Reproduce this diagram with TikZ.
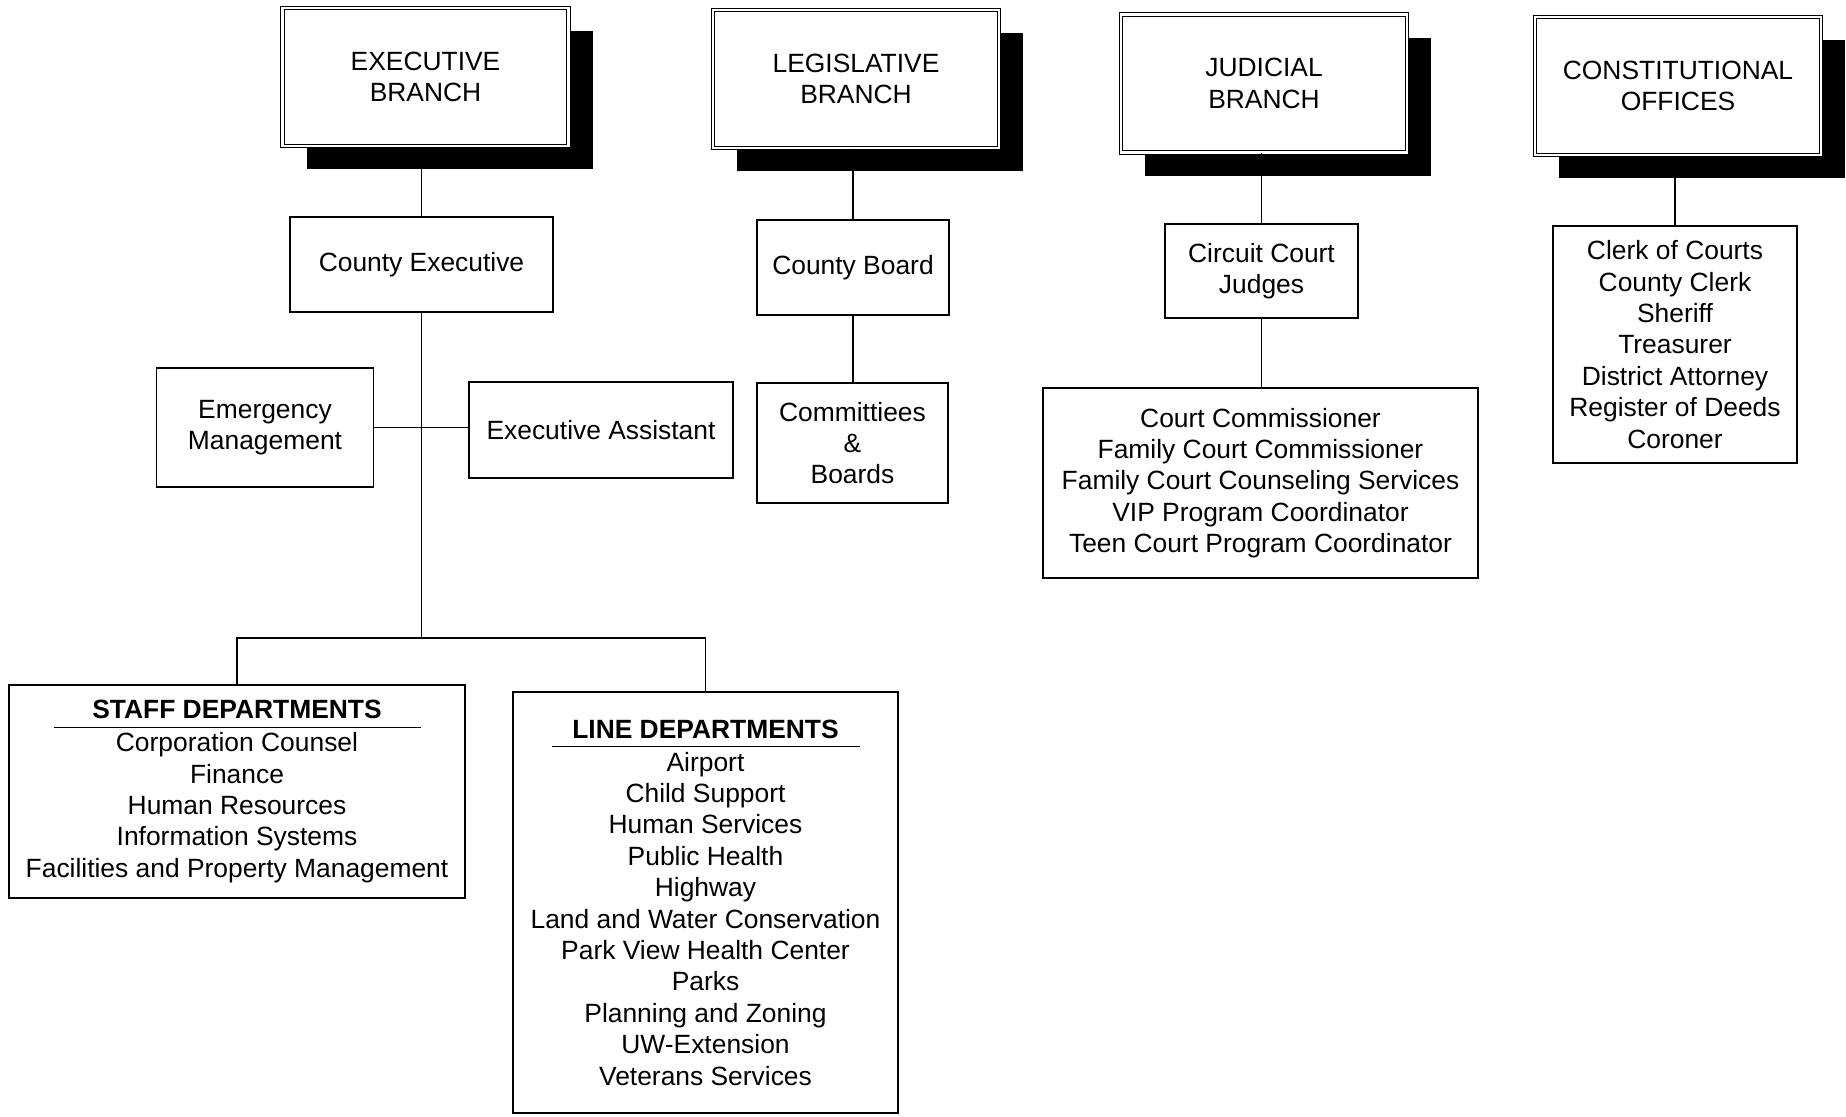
\documentclass[tikz,border=0pt]{standalone}
\usepackage{fontspec}
\setmainfont{Liberation Sans}
\usetikzlibrary{shadows}

\newcommand\orgtextstyle{\fontsize{13.2}{15.7}\selectfont}
\newcommand\depthead[2]{\makebox[#1]{\bfseries #2}\llap{\rule[-4.6pt]{#1}{0.7pt}}}

\tikzset{
  orgunit/.style={draw, line width=0.8pt, align=center, font=\orgtextstyle, inner sep=0pt},
  orgbranch/.style={orgunit, fill=white, line width=0.6pt, double, double distance=1.2pt,
    minimum width=143pt, minimum height=69pt,
    drop shadow={shadow xshift=12pt, shadow yshift=-11.5pt, fill=black, opacity=1}},
  orglink/.style={line width=0.6pt}
}

\begin{document}
\begin{tikzpicture}[x=0.5pt, y=-0.5pt]
    \useasboundingbox (0,0) rectangle (1846,1116);
    \node[orgbranch] (exec) at (425.5,77) {EXECUTIVE\\BRANCH};
    \node[orgbranch] (legis) at (856,79) {LEGISLATIVE\\BRANCH};
    \node[orgbranch] (jud) at (1264,83.5) {JUDICIAL\\BRANCH};
    \node[orgbranch] (const) at (1678,86) {CONSTITUTIONAL\\OFFICES};

    \node[orgunit, minimum width=131.5pt, minimum height=47.5pt] (ctyexec) at (421.5,264.5) {County Executive};
    \node[orgunit, minimum width=108.5pt, minimum height=59.5pt] (emerg) at (265,427.5) {Emergency\\Management};
    \node[orgunit, minimum width=132pt, minimum height=48pt] (execasst) at (601,430) {Executive Assistant};
    \node[orgunit, minimum width=228pt, minimum height=106.5pt] (staff) at (237,791.5)
      {\depthead{183.5pt}{STAFF DEPARTMENTS}\\[0.8pt]
       Corporation Counsel\\Finance\\Human Resources\\Information Systems\\
       Facilities and Property Management};
    \node[orgunit, minimum width=192.5pt, minimum height=210.5pt] (linedep) at (705.5,902.5)
      {\depthead{154pt}{LINE DEPARTMENTS}\\[0.8pt]
       Airport\\Child Support\\Human Services\\Public Health\\Highway\\
       Land and Water Conservation\\Park View Health Center\\Parks\\
       Planning and Zoning\\UW-Extension\\Veterans Services};

    \node[orgunit, minimum width=96pt, minimum height=47.5pt] (cboard) at (853,267.5) {County Board};
    \node[orgunit, minimum width=95.5pt, minimum height=60pt] (committ) at (852.5,443) {Committiees\\\&\\Boards};

    \node[orgunit, minimum width=96.5pt, minimum height=47pt] (circuit) at (1261.5,271) {Circuit Court\\Judges};
    \node[orgunit, minimum width=217.5pt, minimum height=95pt] (courtcomm) at (1260.5,483)
      {Court Commissioner\\Family Court Commissioner\\Family Court Counseling Services\\
       VIP Program Coordinator\\Teen Court Program Coordinator};

    \node[orgunit, minimum width=122pt, minimum height=118.5pt] (clerk) at (1675,344.5)
      {Clerk of Courts\\County Clerk\\Sheriff\\Treasurer\\District Attorney\\
       Register of Deeds\\Coroner};

    \coordinate (fork) at (ctyexec.south |- 0,638);
    \draw[orglink] (exec.south -| ctyexec.north) -- (ctyexec.north);
    \draw[orglink] (ctyexec.south) -- (fork);
    \draw[orglink] (staff.north) |- (fork) -| (linedep.north);
    \draw[orglink] (emerg.east) -- (emerg.east -| execasst.west);
    \draw[orglink] (legis.south -| cboard.north) -- (cboard.north);
    \draw[orglink] (cboard.south) -- (cboard.south |- committ.north);
    \draw[orglink] (jud.south -| circuit.north) -- (circuit.north);
    \draw[orglink] (circuit.south) -- (circuit.south |- courtcomm.north);
    \draw[orglink] (const.south -| clerk.north) -- (clerk.north);
\end{tikzpicture}
\end{document}
